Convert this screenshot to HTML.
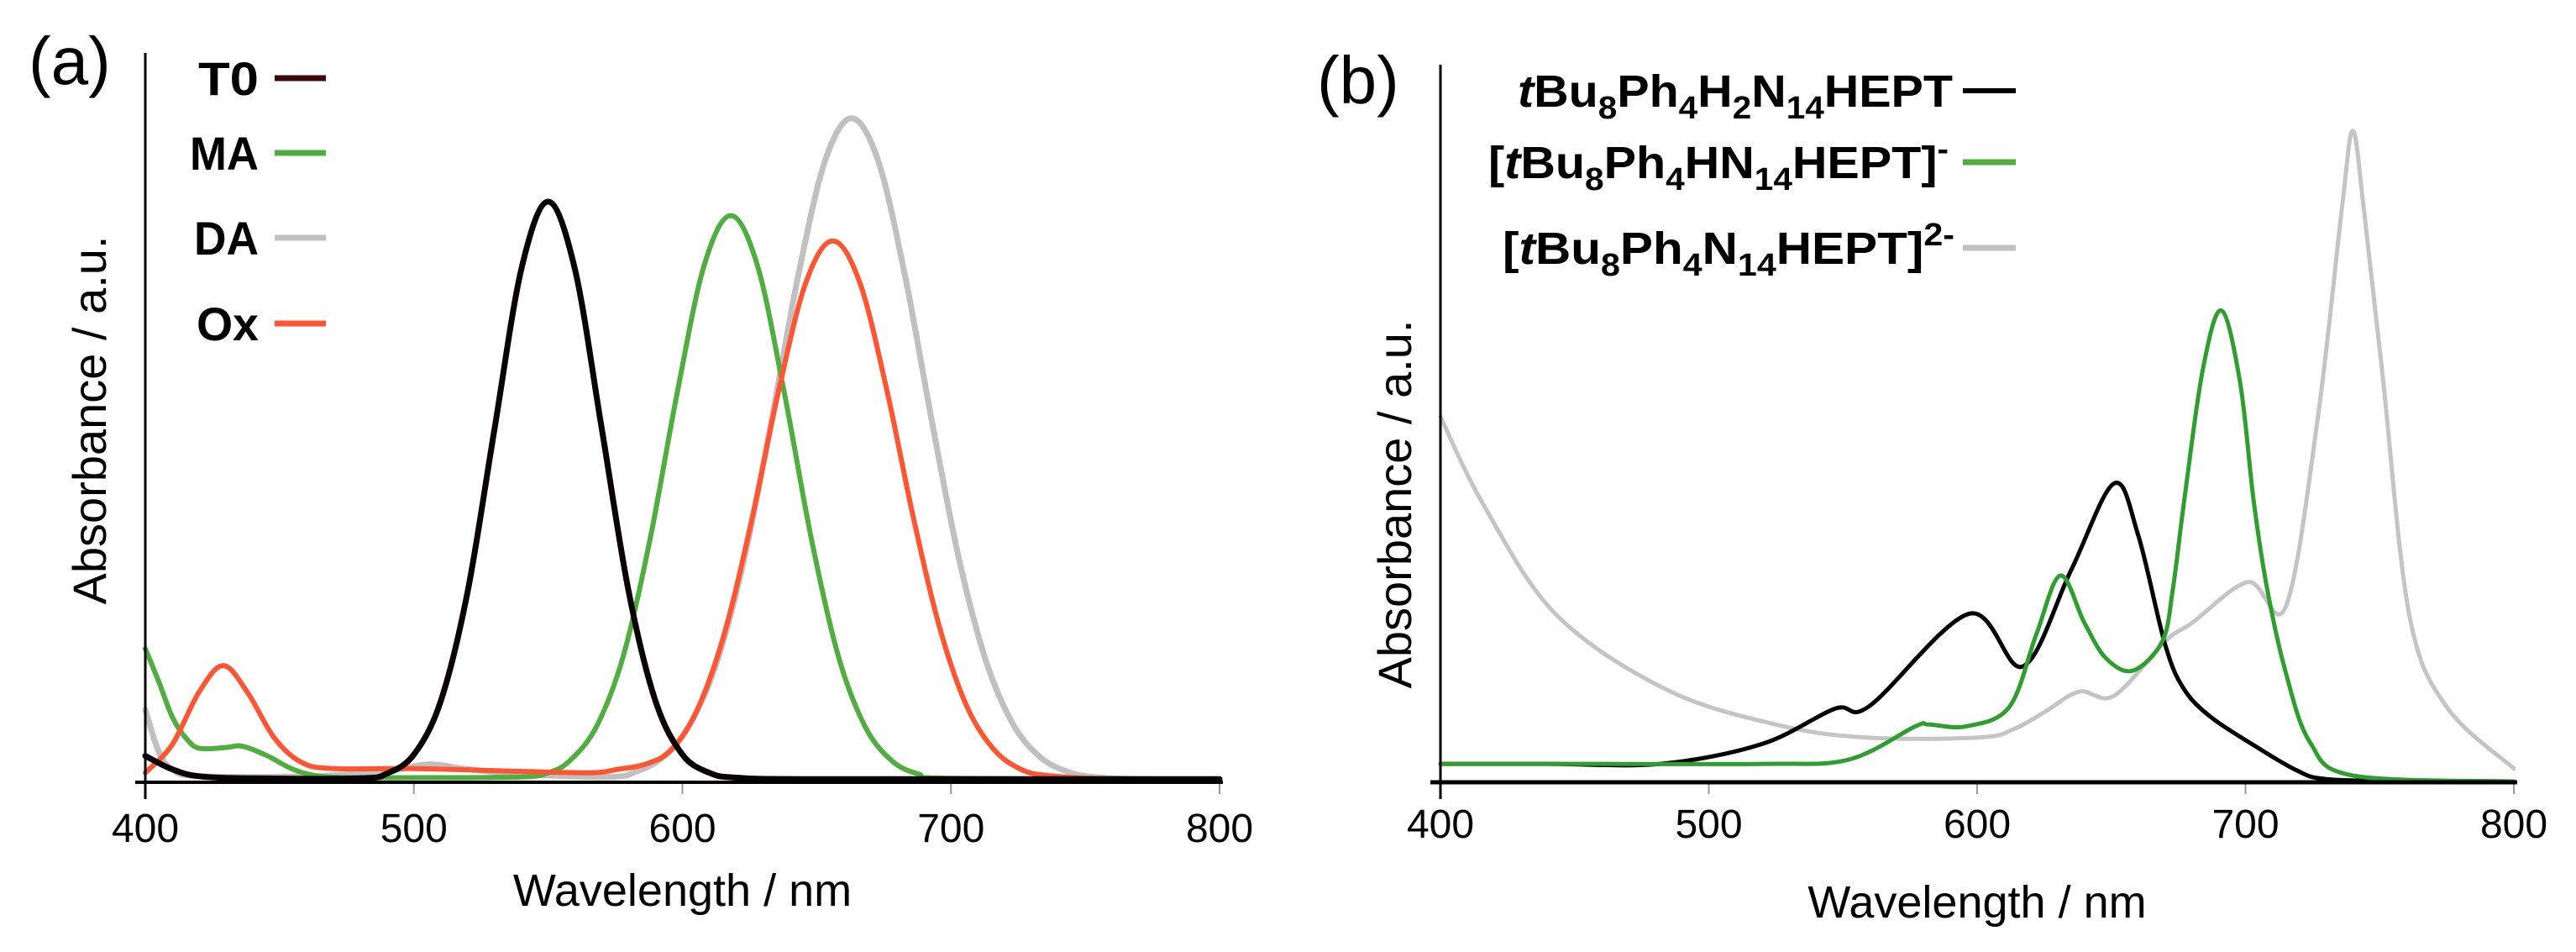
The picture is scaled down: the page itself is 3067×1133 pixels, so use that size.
<!DOCTYPE html>
<html><head><meta charset="utf-8">
<style>
html,body{margin:0;padding:0;background:#fff;}
svg{display:block;}
text{font-family:"Liberation Sans",sans-serif;}
.nar{font-family:"Liberation Sans Narrow","Liberation Sans",sans-serif;}
</style></head>
<body>
<svg id="chart" width="3067" height="1133" viewBox="0 0 3067 1133" xmlns="http://www.w3.org/2000/svg">
  <g id="panelA"></g>
  <g id="panelB"></g>
  <text x="34" y="100" font-size="80">(a)</text>
  <text x="1568" y="123" font-size="80">(b)</text>

  <g font-weight="bold" font-size="56" class="nar" text-anchor="end">
    <text x="308" y="113" textLength="72" lengthAdjust="spacingAndGlyphs">T0</text>
    <line x1="327" y1="93" x2="388" y2="93" stroke="#3a0808" stroke-width="7"/>
    <text x="308" y="202" textLength="82" lengthAdjust="spacingAndGlyphs">MA</text>
    <line x1="327" y1="182" x2="388" y2="182" stroke="#4fae3f" stroke-width="7"/>
    <text x="308" y="303" textLength="77" lengthAdjust="spacingAndGlyphs">DA</text>
    <line x1="327" y1="283" x2="388" y2="283" stroke="#c0c0c0" stroke-width="7"/>
    <text x="308" y="405" textLength="74" lengthAdjust="spacingAndGlyphs">Ox</text>
    <line x1="327" y1="385" x2="388" y2="385" stroke="#ff5533" stroke-width="7"/>
  </g>

  <g font-weight="bold" font-size="54" class="nar">
    <text x="1807" y="127" textLength="518" lengthAdjust="spacingAndGlyphs"><tspan font-style="italic">t</tspan>Bu<tspan font-size="38" dy="14">8</tspan><tspan dy="-14">Ph</tspan><tspan font-size="38" dy="14">4</tspan><tspan dy="-14">H</tspan><tspan font-size="38" dy="14">2</tspan><tspan dy="-14">N</tspan><tspan font-size="38" dy="14">14</tspan><tspan dy="-14">HEPT</tspan></text>
    <line x1="2337" y1="108" x2="2400" y2="108" stroke="#000" stroke-width="6"/>
    <text x="1772" y="212" textLength="548" lengthAdjust="spacingAndGlyphs">[<tspan font-style="italic">t</tspan>Bu<tspan font-size="38" dy="14">8</tspan><tspan dy="-14">Ph</tspan><tspan font-size="38" dy="14">4</tspan><tspan dy="-14">HN</tspan><tspan font-size="38" dy="14">14</tspan><tspan dy="-14">HEPT]</tspan><tspan font-size="38" dy="-22">-</tspan></text>
    <line x1="2337" y1="193" x2="2400" y2="193" stroke="#4fae3f" stroke-width="7"/>
    <text x="1789" y="314" textLength="538" lengthAdjust="spacingAndGlyphs">[<tspan font-style="italic">t</tspan>Bu<tspan font-size="38" dy="14">8</tspan><tspan dy="-14">Ph</tspan><tspan font-size="38" dy="14">4</tspan><tspan dy="-14">N</tspan><tspan font-size="38" dy="14">14</tspan><tspan dy="-14">HEPT]</tspan><tspan font-size="38" dy="-22">2-</tspan></text>
    <line x1="2337" y1="295" x2="2400" y2="295" stroke="#c0c0c0" stroke-width="7"/>
  </g>
</svg>
<script>
// ---- Panel (a) data ----
const aTicks = [400, 500, 600, 700, 800];
const t0Wl  = [400,410,420,440,480,490,500,510,520,530,540,550,560,570,580,590,600,610,620,650,800];
const t0Abs = [.034,.015,.005,.002,.002,.009,.036,.112,.268,.5,.728,.825,.728,.5,.268,.112,.036,.01,.003,.001,.001];
const maWl  = [400,405,410,415,420,430,436,445,455,465,480,500,540,550,558,568,578,588,598,608,618,628,638,648,658,668,678,688,700,800];
const maAbs = [.187,.14,.09,.06,.045,.046,.048,.035,.015,.005,.003,.003,.004,.010,.027,.076,.177,.344,.551,.733,.805,.733,.551,.344,.177,.076,.027,.008,.002,0];
const daWl  = [400,405,410,420,460,490,505,520,540,573,583,593,603,613,623,633,643,653,663,673,683,693,703,713,723,733,743,753,770,800];
const daAbs = [.10,.04,.015,.005,.005,.012,.022,.015,.008,.004,.012,.033,.08,.17,.315,.509,.717,.882,.944,.882,.717,.509,.315,.17,.08,.033,.012,.004,.001,0];
const oxWl  = [400,410,420,429,438,448,458,470,500,540,566,576,586,596,606,616,626,636,646,656,666,676,686,696,706,716,726,736,760,800];
const oxAbs = [.01,.05,.125,.163,.125,.06,.025,.016,.016,.012,.01,.015,.022,.043,.104,.214,.374,.558,.71,.769,.71,.558,.374,.214,.104,.043,.015,.006,.001,0];

// ---- Panel (b) data ----
const bTicks = [400, 500, 600, 700, 800];
const neuWl  = [400,440,482,520,547,560,597,617,635,651,660,670,677,687,703,719,730,760,800];
const neuAbs = [.03,.03,.03,.064,.124,.129,.286,.196,.36,.508,.42,.234,.158,.110,.062,.019,.004,0,0];
const monoWl  = [400,450,520,552,577,582,596,612,622,631,640,648,658,669,673,677,684,691,698,703,708,715,724,740,800];
const monoAbs = [.03,.03,.03,.037,.094,.097,.094,.127,.25,.351,.27,.21,.189,.239,.33,.473,.7,.803,.68,.48,.33,.186,.067,.01,0];
const diWl  = [400,416,443,484,525,558,601,614,625,638,651,670,680,701,715,727,736,740,744,751,761,775,800];
const diAbs = [.622,.472,.285,.157,.097,.075,.075,.09,.118,.153,.146,.239,.27,.34,.298,.622,.98,1.109,.98,.697,.285,.127,.022];

const NS = 'http://www.w3.org/2000/svg';
function mk(tag, attrs, parent){
  const el = document.createElementNS(NS, tag);
  for (const k in attrs) el.setAttribute(k, attrs[k]);
  parent.appendChild(el);
  return el;
}
function smoothPath(pts){
  let d = 'M' + pts[0][0].toFixed(1) + ',' + pts[0][1].toFixed(1);
  for (let i = 0; i < pts.length - 1; i++){
    const p0 = pts[Math.max(0,i-1)], p1 = pts[i], p2 = pts[i+1], p3 = pts[Math.min(pts.length-1,i+2)];
    const c1x = p1[0] + (p2[0]-p0[0])/6, c1y = p1[1] + (p2[1]-p0[1])/6;
    const c2x = p2[0] - (p3[0]-p1[0])/6, c2y = p2[1] - (p3[1]-p1[1])/6;
    d += ' C' + c1x.toFixed(1) + ',' + c1y.toFixed(1) + ' ' + c2x.toFixed(1) + ',' + c2y.toFixed(1) + ' ' + p2[0].toFixed(1) + ',' + p2[1].toFixed(1);
  }
  return d;
}

function drawPanel(g, cfg){
  const x = v => cfg.x0 + (v - 400) / 400 * (cfg.x1 - cfg.x0);
  const y = v => cfg.base - v * cfg.scale;
  cfg.ticks.forEach(t => {
    const tk = mk('line', {x1:x(t), y1:cfg.axisY, x2:x(t), y2:cfg.axisY+14, stroke:'#999', 'stroke-width':2}, g);
    
    
    const lb = mk('text', {x:x(t), y:cfg.labelY, 'font-size':48, 'text-anchor':'middle'}, g);
    lb.textContent = t;
    
    
  });
  cfg.series.forEach(s => {
    const pts = s.wl.map((w,i) => [x(w), y(s.abs[i])]);
    const p = mk('path', {d:smoothPath(pts), fill:'none', stroke:s.color, 'stroke-width':s.w, 'stroke-linejoin':'round', 'stroke-linecap':'round'}, g);
    
    
  });
  const xa = mk('line', {x1:cfg.x0-12, y1:cfg.axisY, x2:cfg.x1+4, y2:cfg.axisY, stroke:'#000', 'stroke-width':cfg.axisW}, g);
  
  
  const ya = mk('line', {x1:cfg.x0, y1:cfg.top, x2:cfg.x0, y2:cfg.axisY+20, stroke:'#000', 'stroke-width':3}, g);
  
  
  const xt = mk('text', {x:(cfg.x0+cfg.x1)/2, y:cfg.titleY, 'font-size':54, 'text-anchor':'middle'}, g);
  xt.textContent = 'Wavelength / nm';
  
  
  const yt = mk('text', {x:0, y:0, 'font-size':56, 'text-anchor':'middle', transform:'translate(' + cfg.yTitleX + ',' + cfg.yTitleY + ') rotate(-90)'}, g);
  yt.textContent = 'Absorbance / a.u.';
  
  
}

drawPanel(document.getElementById('panelA'), {
  x0:173, x1:1452, base:928, scale:834, axisY:931, top:63, axisW:4, labelY:1002, titleY:1078,
  yTitleX:126, yTitleY:500, ticks:aTicks,
  series:[
    {name:'series-da', wl:daWl, abs:daAbs, color:'#c0c0c0', w:7},
    {name:'series-ma', wl:maWl, abs:maAbs, color:'#4fae3f', w:6},
    {name:'series-ox', wl:oxWl, abs:oxAbs, color:'#ff5533', w:6},
    {name:'series-t0', wl:t0Wl, abs:t0Abs, color:'#0a0000', w:7}
  ]
});
drawPanel(document.getElementById('panelB'), {
  x0:1715, x1:2993, base:930, scale:698, axisY:931, top:77, axisW:5, labelY:997, titleY:1092,
  yTitleX:1680, yTitleY:600, ticks:bTicks,
  series:[
    {name:'series-dianion', wl:diWl, abs:diAbs, color:'#c4c4c4', w:5},
    {name:'series-neutral', wl:neuWl, abs:neuAbs, color:'#000', w:5},
    {name:'series-monoanion', wl:monoWl, abs:monoAbs, color:'#2e9e2e', w:5}
  ]
});
</script>
</body></html>
